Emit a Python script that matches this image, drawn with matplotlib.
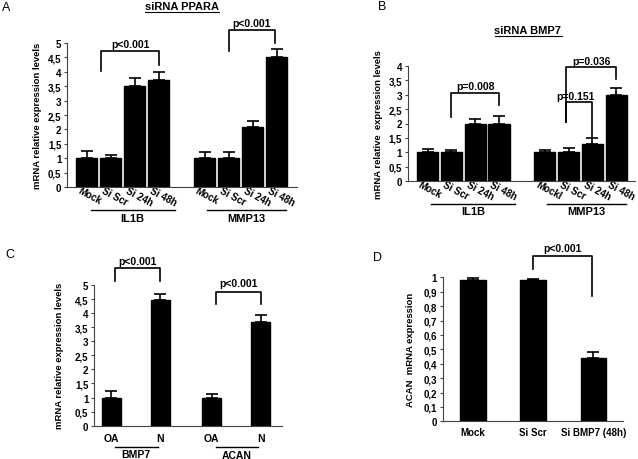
import matplotlib
matplotlib.use("Agg")
import matplotlib.pyplot as plt
import matplotlib.transforms as mtransforms
from matplotlib.lines import Line2D
import numpy as np

plt.rcParams["font.family"] = ["Liberation Sans", "DejaVu Sans"]
plt.rcParams["font.weight"] = "bold"

# ---- data -------------------------------------------------------------
a_labels = ["Mock", "Si Scr", "Si 24h", "Si 48h"]
a_groups = ["IL1B", "MMP13"]
a_il1b = [1.0, 1.0, 3.5, 3.7]
a_il1b_err = [0.25, 0.12, 0.3, 0.28]
a_mmp13 = [1.0, 1.0, 2.1, 4.5]
a_mmp13_err = [0.2, 0.2, 0.2, 0.3]

b_labels_il1b = ["Mock", "Si Scr", "Si 24h", "Si 48h"]
b_labels_mmp13 = ["Mockl", "Si Scr", "Si 24h", "Si 48h"]
b_il1b = [1.0, 1.0, 2.0, 2.0]
b_il1b_err = [0.12, 0.08, 0.15, 0.25]
b_mmp13 = [1.0, 1.0, 1.3, 3.0]
b_mmp13_err = [0.08, 0.15, 0.2, 0.25]

c_labels = ["OA", "N"]
c_groups = ["BMP7", "ACAN"]
c_bmp7 = [1.0, 4.45]
c_bmp7_err = [0.22, 0.22]
c_acan = [1.0, 3.68]
c_acan_err = [0.12, 0.25]

d_labels = ["Mock", "Si Scr", "Si BMP7 (48h)"]
d_values = [0.98, 0.98, 0.44]
d_err = [0.015, 0.01, 0.04]

W, H = 638, 460
fig = plt.figure(figsize=(W / 100, H / 100), dpi=100)


def px_axes(left, right, top, bottom):
    return fig.add_axes([left / W, 1 - bottom / H, (right - left) / W, (bottom - top) / H])


def comma(v):
    return f"{v:g}".replace(".", ",")


def style(ax, ymax, step):
    for s in ("top", "right"):
        ax.spines[s].set_visible(False)
    for s in ("left", "bottom"):
        ax.spines[s].set_color("#444444")
        ax.spines[s].set_linewidth(0.8)
    ticks = np.round(np.arange(0, ymax + step / 2, step), 3)
    ax.set_yticks(ticks)
    ax.set_yticklabels([comma(t) for t in ticks], fontsize=7, fontweight="bold")
    ax.set_ylim(0, ymax)
    ax.tick_params(axis="y", length=2.5, width=0.8, pad=1.5, color="#444444")
    ax.tick_params(axis="x", length=0)


def bars(ax, x, vals, errs, width):
    ax.bar(x, vals, width=width, color="black", edgecolor="black")
    ax.errorbar(x, vals, yerr=[np.zeros(len(errs)), errs], fmt="none",
                ecolor="black", elinewidth=1.2, capsize=4.5, capthick=1.2)


def bracket(ax, x1, x2, top, y1, y2, text, ty, tx=None):
    ax.plot([x1, x1, x2, x2], [y1, top, top, y2], color="black", lw=1.2, clip_on=False)
    ax.text((x1 + x2) / 2 if tx is None else tx, ty, text, ha="center", va="center",
            fontsize=7.5, fontweight="bold", clip_on=False)


def group_line(ax, x1, x2, yline, label, ylab, fs=8):
    tr = mtransforms.blended_transform_factory(ax.transData, ax.transAxes)
    ax.add_line(Line2D([x1, x2], [yline, yline], transform=tr, color="black", lw=1.0, clip_on=False))
    ax.text((x1 + x2) / 2, ylab, label, transform=tr, ha="center", va="center",
            fontsize=fs, fontweight="bold")


def rotated_labels(ax, x, labels, dx_px=-6, dy_px=2):
    ax.set_xticks(x)
    ax.set_xticklabels(labels, rotation=-28, ha="left", va="top", rotation_mode="anchor",
                       fontsize=7, fontweight="bold")
    ax.tick_params(axis="x", pad=0)
    off = mtransforms.ScaledTranslation(dx_px / 100, dy_px / 100, fig.dpi_scale_trans)
    for lab in ax.get_xticklabels():
        lab.set_transform(lab.get_transform() + off)


def underlined_title(x_px, y_px, text):
    t = fig.text(x_px / W, 1 - y_px / H, text, ha="center", va="center", fontsize=8, fontweight="bold")
    fig.canvas.draw()
    bb = t.get_window_extent()
    fig.add_artist(Line2D([bb.x0 / W, bb.x1 / W], [(bb.y0 - 1) / H, (bb.y0 - 1) / H],
                          transform=fig.transFigure, color="black", lw=0.8))


# ---- panel A ----------------------------------------------------------
axA = px_axes(67, 297, 44, 188)
xa = np.concatenate([np.arange(4), np.arange(4) + 4.9])
bars(axA, xa, a_il1b + a_mmp13, a_il1b_err + a_mmp13_err, 0.875)
style(axA, 5, 0.5)
axA.set_xlim(-0.83, 8.75)
rotated_labels(axA, xa, a_labels + a_labels)
group_line(axA, xa[0] + 0.15, xa[3] + 0.65, -0.163, a_groups[0], -0.215)
group_line(axA, xa[4] + 0.1, xa[7] + 0.4, -0.163, a_groups[1], -0.215)
bracket(axA, xa[1] - 0.4, xa[3], 4.72, 4.03, 4.24, "p<0.001", 4.97)
bracket(axA, xa[5], xa[7] - 0.05, 5.46, 4.72, 5.0, "p<0.001", 5.7)
axA.set_ylabel("mRNA relative expression levels", fontsize=6.8, fontweight="bold", labelpad=4)

# ---- panel B ----------------------------------------------------------
axB = px_axes(407.7, 635, 67, 182)
xb = np.concatenate([np.arange(4), np.arange(4) + 4.9])
bars(axB, xb, b_il1b + b_mmp13, b_il1b_err + b_mmp13_err, 0.9)
style(axB, 4, 0.5)
axB.set_xlim(-0.83, 8.68)
rotated_labels(axB, xb, b_labels_il1b + b_labels_mmp13)
group_line(axB, xb[0] + 0.15, xb[3] + 0.65, -0.2, "IL1B", -0.265)
group_line(axB, xb[4] + 0.1, xb[7] + 0.4, -0.2, "MMP13", -0.265)
bracket(axB, xb[1], xb[3], 3.05, 2.22, 2.64, "p=0.008", 3.3)
bracket(axB, xb[5] - 0.1, xb[6], 2.76, 2.05, 1.54, "p=0.151", 2.97, tx=xb[5] + 0.3)
bracket(axB, xb[5] - 0.1, xb[7], 3.95, 2.05, 3.55, "p=0.036", 4.16)
axB.set_ylabel("mRNA relative  expression levels", fontsize=6.8, fontweight="bold", labelpad=4)

# ---- panel C ----------------------------------------------------------
axC = px_axes(94, 282, 286, 426.7)
xc = np.array([0, 1, 2.05, 3.05])
bars(axC, xc, c_bmp7 + c_acan, c_bmp7_err + c_acan_err, 0.39)
style(axC, 5, 0.5)
axC.set_xlim(-0.35, 3.48)
axC.set_xticks(xc)
axC.set_xticklabels(c_labels + c_labels, fontsize=7.5, fontweight="bold")
axC.tick_params(axis="x", pad=5)
group_line(axC, xc[0] + 0.07, xc[1] - 0.05, -0.15, c_groups[0], -0.2, fs=7.5)
group_line(axC, xc[2] + 0.08, xc[3] - 0.06, -0.15, c_groups[1], -0.205, fs=7.5)
bracket(axC, xc[0] + 0.08, xc[1], 5.6, 5.14, 5.14, "p<0.001", 5.87)
bracket(axC, xc[2] + 0.08, xc[3], 4.75, 4.33, 4.33, "p<0.001", 5.08)
axC.set_ylabel("mRNA relative expression levels", fontsize=6.8, fontweight="bold", labelpad=8)

# ---- panel D ----------------------------------------------------------
axD = px_axes(442.7, 623, 278.3, 422.3)
xd = np.arange(3)
bars(axD, xd, d_values, d_err, 0.42)
style(axD, 1, 0.1)
axD.set_xlim(-0.5, 2.49)
axD.set_xticks(xd)
axD.set_xticklabels(d_labels, fontsize=7, fontweight="bold")
axD.tick_params(axis="x", pad=4)
bracket(axD, xd[1], xd[2] - 0.03, 1.15, 1.06, 0.87, "p<0.001", 1.2)
axD.set_ylabel("ACAN  mRNA expression", fontsize=6.8, fontweight="bold", labelpad=6)

# ---- titles and panel letters ----------------------------------------
underlined_title(182, 7, "siRNA PPARA")
underlined_title(528, 31, "siRNA BMP7")
for lx, ly, letter in [(6, 8, "A"), (382, 7, "B"), (10, 255, "C"), (377, 258, "D")]:
    fig.text(lx / W, 1 - ly / H, letter, ha="center", va="center", fontsize=9, fontweight="normal")

fig.savefig("out.png", dpi=100)
